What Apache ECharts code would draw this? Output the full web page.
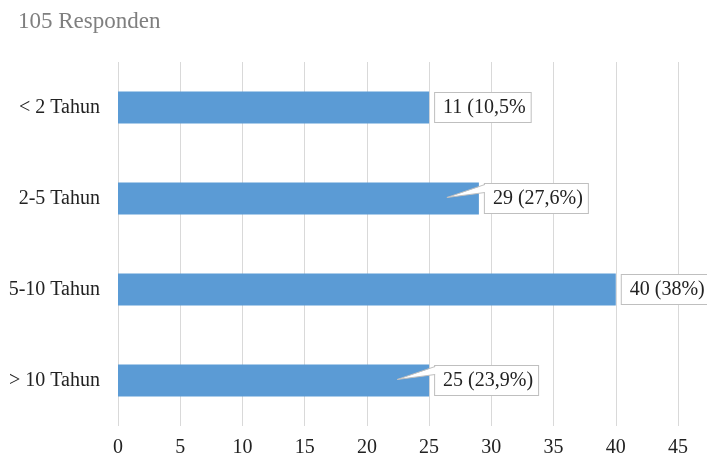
<!DOCTYPE html>
<html><head><meta charset="utf-8">
<script src="https://cdn.jsdelivr.net/npm/echarts@6/dist/echarts.min.js"></script>
<style>html,body{margin:0;padding:0;background:#fff}#c{width:707px;height:462px}</style>
</head><body><div id="c"></div>
<script>
var titleText = '105 Responden';
var categories = ['< 2 Tahun', '2-5 Tahun', '5-10 Tahun', '> 10 Tahun'];
var barValues = [25, 29, 40, 25];
var labelTexts = ['11 (10,5%', '29 (27,6%)', '40 (38%)', '25 (23,9%)'];
var calloutFlags = [false, true, false, true];
var xTicks = [0, 5, 10, 15, 20, 25, 30, 35, 40, 45];

var FONT = '"Liberation Serif", "Times New Roman", serif';
var chart = echarts.init(document.getElementById('c'));
var labelData = barValues.map(function (v, i) { return [v, i]; });

chart.setOption({
  animation: false,
  title: { text: titleText, left: 13, top: 5, textStyle: { fontFamily: FONT, fontSize: 23, fontWeight: 'normal', color: '#7f7f7f' } },
  grid: { left: 118, right: 29, top: 62, bottom: 36 },
  xAxis: {
    type: 'value', min: xTicks[0], max: xTicks[xTicks.length - 1], interval: 5,
    axisLine: { show: false }, axisTick: { show: false },
    axisLabel: { fontFamily: FONT, fontSize: 20, color: '#222', margin: 12 },
    splitLine: { show: true, lineStyle: { color: '#d9d9d9', width: 1 } }
  },
  yAxis: {
    type: 'category', data: categories, inverse: true,
    axisLine: { show: false }, axisTick: { show: false },
    axisLabel: { fontFamily: FONT, fontSize: 20, color: '#222', margin: 18 }
  },
  series: [
    { type: 'bar', data: barValues, barWidth: '35%', itemStyle: { color: '#5b9bd5' }, z: 2 },
    {
      type: 'custom', z: 5, data: labelData,
      renderItem: function (params, api) {
        var idx = api.value(1);
        var p = api.coord([api.value(0), idx]);
        var bx = p[0] + 6, cy = p[1];
        var children = [{
          type: 'text',
          x: bx, y: cy,
          style: {
            text: labelTexts[idx], font: '20px ' + FONT, fill: '#222',
            backgroundColor: '#fff', borderColor: '#bfbfbf', borderWidth: 1,
            padding: [5, 5, 4, 8], verticalAlign: 'middle', align: 'left'
          }
        }];
        if (calloutFlags[idx]) {
          var tip = [p[0] - 32, cy - 1];
          children.push({ type: 'polygon', shape: { points: [[bx + 1, cy - 14], [bx + 1, cy - 6], tip] }, style: { fill: '#fff', stroke: null } });
          children.push({ type: 'polyline', shape: { points: [[bx, cy - 14], tip, [bx, cy - 6]] }, style: { stroke: '#bfbfbf', lineWidth: 1, fill: null } });
        }
        return { type: 'group', children: children };
      }
    }
  ]
});
</script></body></html>
